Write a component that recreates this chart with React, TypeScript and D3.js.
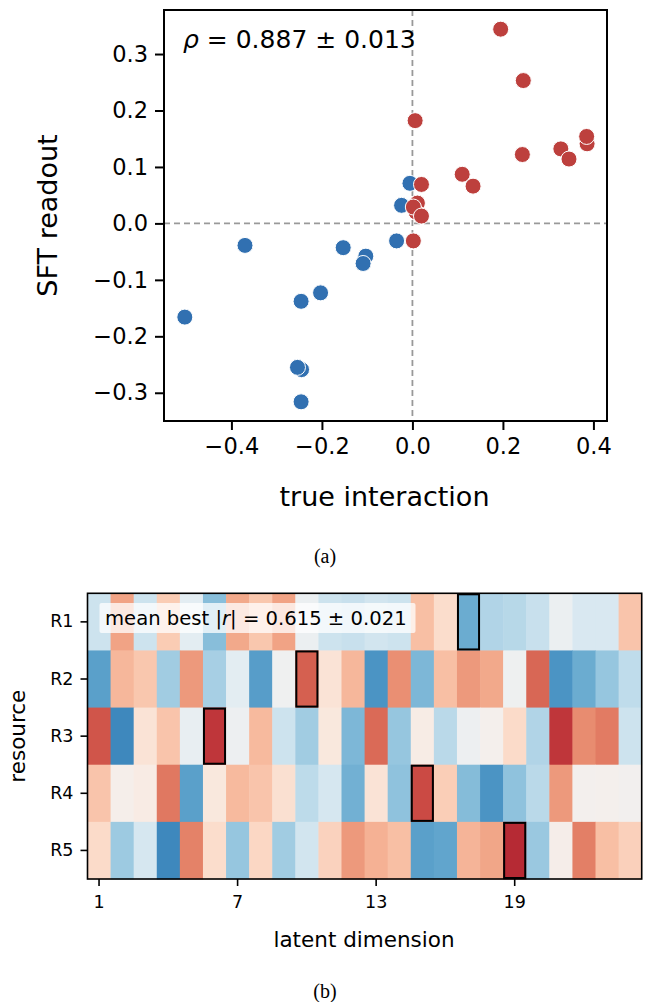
import React, { useEffect, useRef } from 'react';
import * as d3 from 'd3';

// scatter panel (a): true interaction vs SFT readout
const RED_X = [0.195, 0.245, 0.006, 0.243, 0.328, 0.346, 0.386, 0.385, 0.110, 0.134, 0.020, 0.011, 0.008, 0.002, 0.020, 0.002];
const RED_Y = [0.344, 0.253, 0.182, 0.122, 0.132, 0.114, 0.141, 0.154, 0.087, 0.066, 0.069, 0.036, 0.020, 0.029, 0.013, -0.031];
const BLUE_X = [-0.0055, -0.024, -0.035, -0.370, -0.153, -0.103, -0.109, -0.203, -0.246, -0.503, -0.245, -0.254, -0.246];
const BLUE_Y = [0.071, 0.032, -0.031, -0.039, -0.043, -0.058, -0.071, -0.123, -0.138, -0.166, -0.259, -0.255, -0.316];
const X_TICKS = [-0.4, -0.2, 0.0, 0.2, 0.4];
const Y_TICKS = [-0.3, -0.2, -0.1, 0.0, 0.1, 0.2, 0.3];

// heatmap panel (b): correlation of each resource with each latent dimension
const RESOURCES = ['R1', 'R2', 'R3', 'R4', 'R5'];
const DIMS = d3.range(1, 25);
const DIM_TICKS = [1, 7, 13, 19];
const R1 = [-0.2, 0.4, -0.2, 0.25, -0.1, -0.42, 0.38, 0.27, 0.4, -0.05, -0.2, -0.22, -0.18, -0.2, 0.3, 0.17, -0.5, -0.3, -0.28, -0.22, -0.05, -0.15, -0.15, 0.28];
const R2 = [-0.55, 0.33, 0.27, -0.35, 0.43, -0.33, -0.1, -0.56, -0.02, 0.6, 0.13, 0.33, -0.6, 0.46, -0.45, 0.3, 0.43, 0.38, -0.03, 0.58, -0.6, -0.5, -0.38, -0.25];
const R3 = [0.63, -0.65, 0.13, 0.28, -0.07, 0.72, -0.04, 0.32, -0.2, -0.35, 0.1, -0.45, 0.57, -0.38, 0.06, -0.27, -0.04, 0.02, 0.18, -0.3, 0.72, 0.47, 0.52, -0.2];
const R4 = [0.28, 0.03, 0.07, 0.53, -0.55, 0.1, 0.32, 0.28, 0.15, -0.26, -0.16, -0.48, 0.13, -0.4, 0.66, 0.24, -0.43, -0.6, -0.4, -0.27, 0.43, 0.01, 0.02, 0.0];
const R5 = [0.18, -0.36, -0.16, -0.65, 0.5, 0.17, -0.38, 0.2, -0.35, -0.18, 0.22, 0.43, 0.35, 0.3, -0.55, -0.53, 0.34, 0.39, 0.76, -0.37, 0.04, 0.51, 0.3, 0.23];
const BEST_DIM = [17, 10, 6, 15, 19];

const FONT = 'DejaVu Sans, sans-serif';
const SERIF = 'Liberation Serif, Times New Roman, serif';

export default function App() {
  const svgRef = useRef<SVGSVGElement>(null);

  useEffect(() => {
    const svg = d3.select(svgRef.current);
    svg.selectAll('*').remove();

    // ---------- panel (a) ----------
    const a = { left: 164, right: 607, top: 10, bottom: 421 };
    const x = d3.scaleLinear().domain([-0.549, 0.43]).range([a.left, a.right]);
    const y = d3.scaleLinear().domain([-0.35, 0.378]).range([a.bottom, a.top]);
    const fmt = (d: any) => d3.format('.1f')(d as number).replace('-', '\u2212');

    const ga = svg.append('g');

    // dashed zero lines
    ga.append('line')
      .attr('x1', x(0)).attr('x2', x(0)).attr('y1', a.top).attr('y2', a.bottom)
      .attr('stroke', '#999').attr('stroke-width', 1.8).attr('stroke-dasharray', '6,4');
    ga.append('line')
      .attr('x1', a.left).attr('x2', a.right).attr('y1', y(0)).attr('y2', y(0))
      .attr('stroke', '#999').attr('stroke-width', 1.8).attr('stroke-dasharray', '6,4');

    const drawDots = (xs: number[], ys: number[], color: string) => {
      xs.forEach((v, i) => {
        ga.append('circle')
          .attr('cx', x(v)).attr('cy', y(ys[i])).attr('r', 8)
          .attr('fill', color).attr('stroke', '#fff').attr('stroke-width', 1);
      });
    };
    drawDots(BLUE_X, BLUE_Y, '#3170b1');
    drawDots(RED_X, RED_Y, '#bd403d');

    ga.append('rect')
      .attr('x', a.left).attr('y', a.top)
      .attr('width', a.right - a.left).attr('height', a.bottom - a.top)
      .attr('fill', 'none').attr('stroke', '#000').attr('stroke-width', 2);

    const xAxis = ga.append('g')
      .attr('transform', `translate(0,${a.bottom})`)
      .call(d3.axisBottom(x).tickValues(X_TICKS).tickSize(9).tickPadding(8).tickFormat(fmt));
    const yAxis = ga.append('g')
      .attr('transform', `translate(${a.left},0)`)
      .call(d3.axisLeft(y).tickValues(Y_TICKS).tickSize(9).tickPadding(7).tickFormat(fmt));
    [xAxis, yAxis].forEach(ax => {
      ax.select('.domain').remove();
      ax.selectAll('line').attr('stroke', '#000').attr('stroke-width', 2);
      ax.selectAll('text').attr('font-family', FONT).attr('font-size', 22.5).attr('fill', '#000');
    });

    ga.append('text')
      .attr('x', (a.left + a.right) / 2 - 1).attr('y', 506)
      .attr('text-anchor', 'middle').attr('font-family', FONT).attr('font-size', 27)
      .text('true interaction');
    ga.append('text')
      .attr('transform', `translate(57,${(a.top + a.bottom) / 2}) rotate(-90)`)
      .attr('text-anchor', 'middle').attr('font-family', FONT).attr('font-size', 27)
      .text('SFT readout');

    const rho = ga.append('text')
      .attr('x', 183).attr('y', 48).attr('font-family', FONT).attr('font-size', 25);
    rho.append('tspan').attr('font-style', 'italic').text('ρ');
    rho.append('tspan').text(' = 0.887 ± 0.013');

    svg.append('text')
      .attr('x', 325).attr('y', 563).attr('text-anchor', 'middle')
      .attr('font-family', SERIF).attr('font-size', 20)
      .text('(a)');

    // ---------- panel (b) ----------
    const b = { left: 87.5, right: 641.7, top: 593.3, bottom: 879 };
    const rows = [R1, R2, R3, R4, R5];
    const xb = d3.scaleBand<number>().domain(DIMS).range([b.left, b.right]);
    const yb = d3.scaleBand<string>().domain(RESOURCES).range([b.top, b.bottom]);
    const color = (v: number) => d3.interpolateRdBu((1 - v) / 2);

    const gb = svg.append('g');
    rows.forEach((row, ri) => {
      row.forEach((v, ci) => {
        gb.append('rect')
          .attr('x', xb(DIMS[ci])!).attr('y', yb(RESOURCES[ri])!)
          .attr('width', xb.bandwidth() + 0.5).attr('height', yb.bandwidth() + 0.5)
          .attr('fill', color(v));
      });
    });
    BEST_DIM.forEach((d, ri) => {
      gb.append('rect')
        .attr('x', xb(d)! + 1).attr('y', yb(RESOURCES[ri])! + 1)
        .attr('width', xb.bandwidth() - 2).attr('height', yb.bandwidth() - 2)
        .attr('fill', 'none').attr('stroke', '#000').attr('stroke-width', 2);
    });

    gb.append('rect')
      .attr('x', 99.5).attr('y', 603).attr('width', 316).attr('height', 30).attr('rx', 2)
      .attr('fill', '#fff').attr('fill-opacity', 0.75);
    const mb = gb.append('text')
      .attr('x', 105).attr('y', 625).attr('font-family', FONT).attr('font-size', 19.6);
    mb.append('tspan').text('mean best |');
    mb.append('tspan').attr('font-style', 'italic').text('r');
    mb.append('tspan').text('| = 0.615 ± 0.021');

    gb.append('rect')
      .attr('x', b.left).attr('y', b.top)
      .attr('width', b.right - b.left).attr('height', b.bottom - b.top)
      .attr('fill', 'none').attr('stroke', '#000').attr('stroke-width', 1.6);

    const xbAxis = gb.append('g')
      .attr('transform', `translate(0,${b.bottom})`)
      .call(d3.axisBottom(xb).tickValues(DIM_TICKS).tickSize(7).tickPadding(10));
    const ybAxis = gb.append('g')
      .attr('transform', `translate(${b.left},0)`)
      .call(d3.axisLeft(yb).tickSize(7).tickPadding(7));
    [xbAxis, ybAxis].forEach(ax => {
      ax.select('.domain').remove();
      ax.selectAll('line').attr('stroke', '#000').attr('stroke-width', 1.6);
      ax.selectAll('text').attr('font-family', FONT).attr('font-size', 17.5).attr('fill', '#000');
    });

    gb.append('text')
      .attr('x', 364).attr('y', 947).attr('text-anchor', 'middle')
      .attr('font-family', FONT).attr('font-size', 21.5)
      .text('latent dimension');
    gb.append('text')
      .attr('transform', `translate(25,${(b.top + b.bottom) / 2}) rotate(-90)`)
      .attr('text-anchor', 'middle').attr('font-family', FONT).attr('font-size', 21.5)
      .text('resource');

    svg.append('text')
      .attr('x', 325).attr('y', 998).attr('text-anchor', 'middle')
      .attr('font-family', SERIF).attr('font-size', 20)
      .text('(b)');
  }, []);

  return (
    <svg ref={svgRef} width={646} height={1002}
      style={{ position: 'absolute', left: 0, top: 0, background: '#fff' }} />
  );
}
